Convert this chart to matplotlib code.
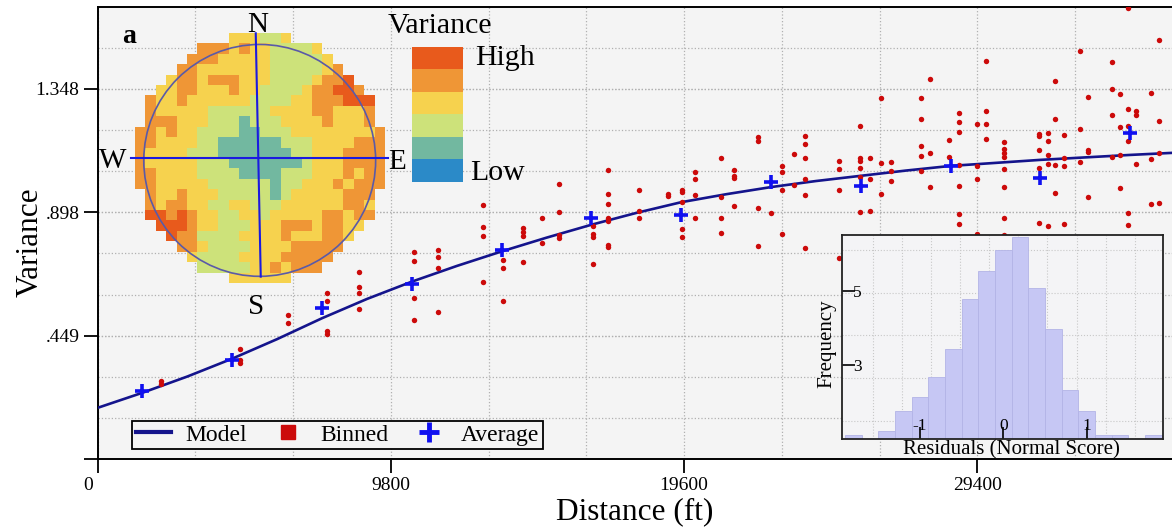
import numpy as np
import matplotlib
matplotlib.use("Agg")
import matplotlib.pyplot as plt
import matplotlib.transforms as mtransforms
from matplotlib.colors import ListedColormap
from matplotlib.lines import Line2D
from matplotlib.patches import Circle

plt.rcParams['font.family'] = ['Liberation Serif', 'DejaVu Serif']

# ---- semivariogram data ----
model_dist = [0, 1500, 3000, 4500, 6000, 7500, 9000, 10500, 12000, 13500, 15000, 16500,
              18000, 19500, 21000, 22500, 24000, 25500, 27000, 28500, 30000, 31500,
              33000, 34500, 36000]
model_var = [0.187, 0.242, 0.301, 0.366, 0.437, 0.513, 0.583, 0.646, 0.703, 0.756, 0.806,
             0.853, 0.896, 0.935, 0.964, 0.990, 1.012, 1.031, 1.050, 1.067, 1.078, 1.089,
             1.098, 1.107, 1.115]

avg_dist = [1500, 4500, 7500, 10500, 13500, 16500, 19500, 22500, 25500, 28500, 31500, 34500]
avg_var = [0.248, 0.362, 0.550, 0.638, 0.761, 0.878, 0.888, 1.008, 0.995, 1.067, 1.022, 1.186]

bin_dist = [2120, 4760, 6375, 7660, 8750, 10585, 11385, 12890, 13555, 14215, 14840, 15420,
            16555, 17065, 18090, 19050, 19520, 19960, 20830, 21275, 22075, 22490, 22880,
            23280, 23650, 24765, 25475, 25810, 26175, 26510, 27505, 27825, 28450, 28775,
            29395, 29685, 30275, 31445, 31745, 32000, 32290, 32835, 33095, 33905, 34150,
            34440, 34705, 35205, 35475]
bin_var = [
    [0.285, 0.275],
    [0.402, 0.362, 0.352],
    [0.525, 0.494],
    [0.605, 0.576, 0.465, 0.456],
    [0.682, 0.628, 0.604, 0.546],
    [0.753, 0.721, 0.586, 0.506],
    [0.762, 0.736, 0.696, 0.537],
    [0.924, 0.844, 0.812, 0.645],
    [0.724, 0.696, 0.576],
    [0.841, 0.827, 0.812, 0.717],
    [0.879, 0.788],
    [1.003, 0.900, 0.816, 0.806],
    [0.849, 0.821, 0.808, 0.712],
    [1.051, 0.964, 0.928, 0.876, 0.865, 0.779, 0.773],
    [0.980, 0.903, 0.876],
    [0.965, 0.958],
    [0.980, 0.971, 0.936, 0.838, 0.809],
    [1.044, 1.019, 0.963, 0.876],
    [1.094, 0.955, 0.876, 0.824],
    [1.051, 1.031, 1.022, 0.923],
    [1.174, 1.157, 0.915, 0.776],
    [0.894],
    [1.067, 1.046, 0.979, 0.820],
    [1.111, 0.999],
    [1.177, 1.146, 1.097, 1.019, 0.960, 0.768],
    [1.084, 1.055, 0.980, 0.732],
    [1.211, 1.095, 1.084, 1.060, 1.028, 0.900],
    [1.095, 1.019, 0.903],
    [1.314, 1.079, 0.964],
    [1.083, 1.049, 1.011],
    [1.314, 1.238, 1.139, 1.102, 1.050],
    [1.382, 1.115, 0.992],
    [1.163, 1.100],
    [1.260, 1.227, 1.191, 1.071, 0.995, 0.893, 0.857],
    [1.219, 1.065, 1.019, 0.821],
    [1.449, 1.266, 1.219, 1.166],
    [1.155, 1.128, 1.113, 1.099, 1.055, 0.991, 0.879, 0.816],
    [1.182, 1.177, 1.126, 1.060, 0.861],
    [1.187, 1.159, 1.105, 1.075, 0.848],
    [1.377, 1.239, 1.072, 0.968],
    [1.179, 1.096, 1.068, 0.856],
    [1.485, 1.203, 1.083],
    [1.318, 1.126, 1.119, 0.955],
    [1.445, 1.346, 1.254, 1.100],
    [1.330, 1.210, 1.105, 0.987],
    [1.642, 1.274, 1.211, 1.159, 0.896, 0.852],
    [1.267, 1.253, 1.075],
    [1.334, 1.091, 0.928],
    [1.525, 1.230, 1.115, 0.933],
]

x_ticks = [0, 9800, 19600, 29400]
y_ticks = [0, 0.449, 0.898, 1.348]
y_tick_labels = ['', '.449', '.898', '1.348']

# ---- residual histogram ----
hist_centers = [-1.8, -1.6, -1.4, -1.2, -1.0, -0.8, -0.6, -0.4, -0.2, 0.0,
                0.2, 0.4, 0.6, 0.8, 1.0, 1.2, 1.4, 1.6, 1.8]
hist_freq = [1.12, 0, 1.21, 1.76, 2.13, 2.69, 3.42, 4.79, 5.53, 6.09,
             6.44, 5.08, 3.97, 2.33, 1.76, 1.12, 1.12, 0, 1.12]

# ---- variance map (class 0 = low ... 5 = high) ----
map_rows = [
    "333333333333223333333333",
    "333333444343322223333333",
    "333334443333322222333333",
    "333344333333322222343333",
    "333344344433322223445433",
    "343344333433222234455443",
    "443343333332222334445554",
    "443333322222233334433344",
    "444433322212223333433344",
    "443433222211222333333334",
    "443333221111112223333444",
    "433332221111111223334444",
    "433333222111111123334444",
    "443333222211112223334344",
    "443333322222212233343444",
    "343343332222212333334444",
    "443443322332223333334433",
    "455454332233233333443443",
    "445554332223334443443343",
    "335544222233334333443333",
    "333544322223333444443333",
    "333333222233334444433333",
    "333333222223343444333333",
    "333333333333333333333333",
]
map_labels = ['Low', 'High']
class_colors = ['#2b8ac8', '#72b8a0', '#cde27a', '#f6d24e', '#ef9636', '#e85a1c']

W, H = 1172, 529
fig = plt.figure(figsize=(W / 100, H / 100), dpi=100)


def px_box(x0, y0, x1, y1):
    # pixel rectangle measured from the top-left corner -> add_axes rect
    return [x0 / W, 1 - y1 / H, (x1 - x0) / W, (y1 - y0) / H]


# ==============================
# main semivariogram
# ==============================
ax = fig.add_axes(px_box(97.5, 7, 1172, 459.3))
ax.set_facecolor('#f4f4f4')

bx = np.concatenate([[d] * len(v) for d, v in zip(bin_dist, bin_var)])
by = np.concatenate(bin_var)

red = '#cc0a0a'
blue = '#1010f0'
navy = '#14148c'

ax.plot(model_dist, model_var, color=navy, lw=1.9, zorder=3)
ax.plot(bx, by, 'o', ms=3.9, color=red, mec='none', zorder=4)
ax.plot(avg_dist, avg_var, '+', ms=9.5, mew=2.6, color=blue, zorder=5)

ax.set_xlim(0, 35900)
ax.set_ylim(0, 1.645)
ax.set_xticks(x_ticks)
ax.set_xticks(np.arange(0, 35900, 9800 / 3), minor=True)
ax.set_yticks(y_ticks)
ax.set_yticklabels(y_tick_labels)
ax.set_yticks(np.arange(0, 1.645, 0.4493 / 3), minor=True)
ax.grid(which='both', ls=':', color='#b0b0b0', lw=0.9, zorder=0)
ax.set_axisbelow(True)
ax.tick_params(which='major', direction='out', length=10, width=1.3, labelsize=14, pad=3)
ax.tick_params(which='minor', length=0)
ax.spines['right'].set_visible(False)
for s in ['left', 'bottom', 'top']:
    ax.spines[s].set_linewidth(1.4)

# the "0" label sits a little left of its tick
zero_lbl = ax.get_xticklabels()[0]
zero_lbl.set_transform(zero_lbl.get_transform() +
                       mtransforms.ScaledTranslation(-0.09, 0, fig.dpi_scale_trans))

ax.set_xlabel('Distance (ft)', fontsize=22.5, labelpad=2)
ax.set_ylabel('Variance', fontsize=22.5)
ax.yaxis.set_label_coords(-0.049, 0.48)

handles = [Line2D([], [], color=navy, lw=3),
           Line2D([], [], ls='none', marker='s', ms=9.5, color=red),
           Line2D([], [], ls='none', marker='+', ms=15, mew=3.5, color=blue)]
leg = ax.legend(handles, ['Model', 'Binned', 'Average'], loc='lower left',
                bbox_to_anchor=(0.0321, 0.0221), ncol=3, fontsize=17,
                fancybox=False, edgecolor='black', facecolor='#f4f4f4', framealpha=1,
                borderpad=0.15, handlelength=1.5, handletextpad=0.6,
                columnspacing=1.0, borderaxespad=0)
leg.get_frame().set_linewidth(1.3)
leg.set_zorder(6)

fig.text(121.7 / W, 1 - 43.3 / H, 'a', fontsize=20, fontweight='bold', ha='left', va='baseline')

# ==============================
# variance map with compass
# ==============================
cmap = ListedColormap(class_colors)
grid = np.array([[int(ch) for ch in row] for row in map_rows])
n = grid.shape[0]
rr, cc = np.mgrid[0:n, 0:n]
outside = (rr - (n - 1) / 2) ** 2 + (cc - (n - 1) / 2) ** 2 > 142
grid_m = np.ma.masked_where(outside, grid)

mx = fig.add_axes(px_box(134.7, 33.3, 384.7, 283.3))
mx.imshow(grid_m, cmap=cmap, vmin=-0.5, vmax=5.5, extent=(-12, 12, -12, 12),
          interpolation='nearest', origin='upper')
mx.set_xlim(-12, 12)
mx.set_ylim(-12, 12)
mx.axis('off')
mx.add_patch(Circle((0, -0.2), 11.13, fill=False, ec='#5a5aa8', lw=1.2, clip_on=False))
mx.plot([-12.4, 12.3], [0.06, 0.06], color='#1a1ae0', lw=1.5, clip_on=False)
mx.plot([-0.38, 0.1], [12.0, -11.36], color='#1a1ae0', lw=1.5, clip_on=False)

for label, x, y in [('N', 258, 32), ('S', 256, 314), ('W', 113, 168), ('E', 397, 169)]:
    fig.text(x / W, 1 - y / H, label, fontsize=21, ha='center', va='baseline')

# class legend
cb = fig.add_axes(px_box(412.3, 46.7, 463.3, 181.7))
cb.imshow(np.arange(6)[::-1].reshape(-1, 1), cmap=cmap, vmin=-0.5, vmax=5.5,
          aspect='auto', interpolation='nearest')
cb.axis('off')
fig.text(439.5 / W, 1 - 33 / H, 'Variance', fontsize=21.5, ha='center', va='baseline')
fig.text(475 / W, 1 - 65 / H, map_labels[1], fontsize=21.5, ha='left', va='baseline')
fig.text(470 / W, 1 - 180 / H, map_labels[0], fontsize=21.5, ha='left', va='baseline')

# ==============================
# residual histogram inset
# ==============================
hx = fig.add_axes(px_box(841.7, 235, 1163.3, 439.3))
hx.set_facecolor('#f4f4f6')
for gx in [-1.57, -1.22, -0.87, -0.52, -0.17, 0.18, 0.53, 0.88, 1.23, 1.58]:
    hx.axvline(gx, ls=':', color='#c8c8c8', lw=0.8, zorder=0.5)
for gy in [1.5, 2.65, 3.8, 4.95, 6.1]:
    hx.axhline(gy, ls=':', color='#c8c8c8', lw=0.8, zorder=0.5)
hx.bar(hist_centers, hist_freq, width=0.2, color='#c6c7f4', edgecolor='#b3b4e6', lw=0.6, zorder=1)
hx.set_xlim(-1.94, 1.92)
hx.set_ylim(1, 6.5)
hx.set_xticks([-1, 0, 1])
hx.set_xticklabels(['-1', '0', '1'])
hx.set_yticks([3, 5])
hx.tick_params(which='major', direction='in', length=9, width=1.2, labelsize=12.5)
hx.tick_params(axis='x', which='major', pad=-15.5)
hx.tick_params(axis='y', which='major', pad=-8)
for t in hx.get_yticklabels():
    t.set_horizontalalignment('left')
for s in hx.spines.values():
    s.set_linewidth(1.3)
    s.set_color('#222222')
hx.text(0.5286, -0.052, 'Residuals (Normal Score)', transform=hx.transAxes,
        fontsize=15, ha='center', va='center')
hx.text(-0.0466, 0.4665, 'Frequency', transform=hx.transAxes, rotation=90,
        fontsize=15, ha='center', va='center')

plt.savefig('out.png', dpi=100)
